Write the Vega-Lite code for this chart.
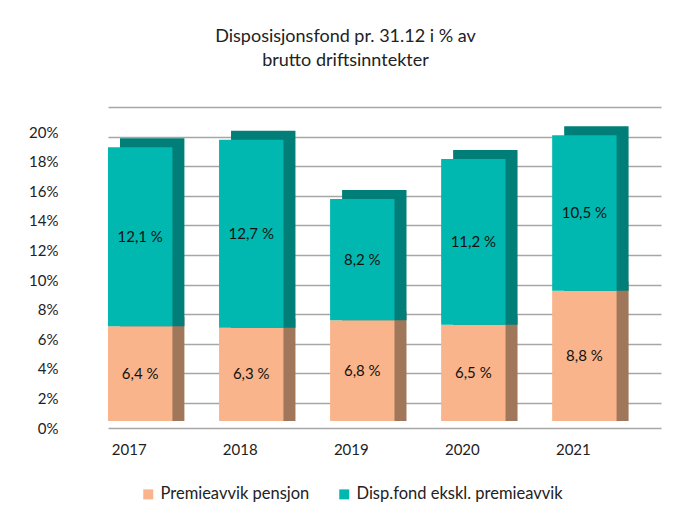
{
  "$schema": "https://vega.github.io/schema/vega-lite/v6.json",
  "autosize": "none",
  "width": 553,
  "height": 296,
  "padding": {"left": 108, "top": 125, "right": 28, "bottom": 97},
  "background": "white",
  "title": {
    "text": ["Disposisjonsfond pr. 31.12 i % av", "brutto driftsinntekter"],
    "font": "Lato",
    "fontSize": 18,
    "fontWeight": "normal",
    "color": "#222222",
    "anchor": "middle",
    "frame": "group",
    "dx": -39,
    "offset": 55,
    "lineHeight": 24
  },
  "data": {
    "values": [
      {"year": "2017", "series": "Premieavvik pensjon", "value": 6.4},
      {"year": "2017", "series": "Disp.fond ekskl. premieavvik", "value": 12.1},
      {"year": "2018", "series": "Premieavvik pensjon", "value": 6.3},
      {"year": "2018", "series": "Disp.fond ekskl. premieavvik", "value": 12.7},
      {"year": "2019", "series": "Premieavvik pensjon", "value": 6.8},
      {"year": "2019", "series": "Disp.fond ekskl. premieavvik", "value": 8.2},
      {"year": "2020", "series": "Premieavvik pensjon", "value": 6.5},
      {"year": "2020", "series": "Disp.fond ekskl. premieavvik", "value": 11.2},
      {"year": "2021", "series": "Premieavvik pensjon", "value": 8.8},
      {"year": "2021", "series": "Disp.fond ekskl. premieavvik", "value": 10.5}
    ]
  },
  "transform": [
    {"stack": "value", "groupby": ["year"], "sort": [{"field": "series", "order": "descending"}], "as": ["v0", "v1"]},
    {"calculate": "(datum.v0 + datum.v1) / 2", "as": "mid"},
    {"calculate": "replace(format(datum.value, '.1f'), '.', ',') + ' %'", "as": "label"}
  ],
  "encoding": {
    "x": {
      "field": "year",
      "type": "ordinal",
      "title": null,
      "scale": {"paddingInner": 0.42, "paddingOuter": 0.2, "align": 0},
      "axis": {
        "labelAngle": 0,
        "labelFont": "Lato",
        "labelFontSize": 15,
        "labelColor": "#222222",
        "ticks": false,
        "domainColor": "#A6A6A6",
        "domainWidth": 1.5,
        "offset": 7,
        "labelPadding": 14,
        "labelOffset": -11
      }
    },
    "y": {
      "field": "v1",
      "type": "quantitative",
      "title": null,
      "scale": {"domain": [0, 20], "nice": false},
      "axis": {
        "values": [0, 2, 4, 6, 8, 10, 12, 14, 16, 18, 20],
        "labelOverlap": false,
        "labelExpr": "datum.value + '%'",
        "labelFont": "Lato",
        "labelFontSize": 15,
        "labelColor": "#222222",
        "ticks": false,
        "domain": false,
        "gridColor": "#A6A6A6",
        "gridWidth": 1.3,
        "tickOffset": -18,
        "labelOffset": 25,
        "labelPadding": 50
      }
    },
    "y2": {"field": "v0"}
  },
  "layer": [
    {
      "mark": {"type": "bar", "xOffset": 12, "yOffset": -9},
      "encoding": {
        "color": {
          "condition": {"test": "datum.series === 'Premieavvik pensjon'", "value": "#A1775B"},
          "value": "#007E77"
        }
      }
    },
    {
      "mark": {"type": "bar"},
      "encoding": {
        "color": {
          "field": "series",
          "type": "nominal",
          "scale": {
            "domain": ["Premieavvik pensjon", "Disp.fond ekskl. premieavvik"],
            "range": ["#F9B48B", "#00B8B0"]
          },
          "legend": {
            "orient": "none",
            "legendX": 32,
            "legendY": 361,
            "direction": "horizontal",
            "title": null,
            "symbolType": "square",
            "symbolSize": 100,
            "symbolStrokeWidth": 0,
            "labelFont": "Lato",
            "labelFontSize": 16.5,
            "labelLimit": 0,
            "labelColor": "#222222",
            "columnPadding": 26
          }
        }
      }
    },
    {
      "mark": {"type": "text", "font": "Lato", "fontSize": 15, "color": "#111111"},
      "encoding": {
        "y": {"field": "mid", "type": "quantitative"},
        "y2": null,
        "text": {"field": "label"}
      }
    }
  ],
  "config": {
    "view": {"stroke": null}
  }
}
